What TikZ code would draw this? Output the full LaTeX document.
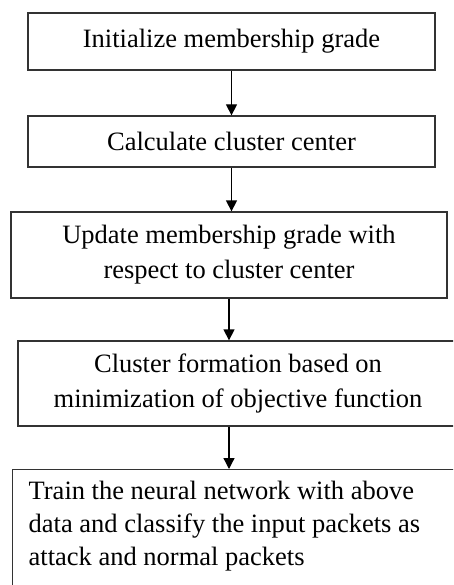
\documentclass[tikz,border=0pt]{standalone}
\usepackage{fontspec}
\setmainfont{Liberation Serif}
\usetikzlibrary{arrows.meta}
\definecolor{boxgray}{rgb}{0.2, 0.2, 0.2}

\tikzset{
  stepbox/.style={draw=boxgray, line width=1.3pt, inner sep=0pt, font=\fontsize{26.5}{35}\selectfont},
  flow/.style={-{Triangle[width=11pt, length=11pt]}, line width=1.3pt, black}
}

\begin{document}
\begin{tikzpicture}[x=1pt, y=-1pt]
        \useasboundingbox (0,0) rectangle (453,585);
        \clip (0,0) rectangle (453,585);

        % Steps
        \node [stepbox, align=center, minimum width=407pt, minimum height=57pt] (init) at (231.5,41.5) {Initialize membership grade};
        \node [stepbox, align=center, minimum width=407pt, minimum height=51pt] (center) at (231.5,141.5) {Calculate cluster center};
        \node [stepbox, align=center, minimum width=436pt, minimum height=86pt] (update) at (229,255) {Update membership grade with\\respect to cluster center};
        \node [stepbox, align=center, minimum width=440pt, minimum height=85pt] (cluster) at (238,383.5) {Cluster formation based on\\minimization of objective function};
        \node [stepbox, anchor=north west, inner xsep=16pt, inner ysep=7pt, font=\fontsize{26.5}{33}\selectfont] (train) at (12,469)
            {\parbox[t][150pt][t]{440pt}{\strut Train the neural network with above\\data and classify the input packets as\\attack and normal packets}};

        % Arrows
        \draw [flow] (init) -- (center);
        \draw [flow] (center.south) -- (center.south |- update.north);
        \draw [flow] (update.south) -- (update.south |- cluster.north);
        \draw [flow] (update.south |- cluster.south) -- (update.south |- train.north);
\end{tikzpicture}
\end{document}
